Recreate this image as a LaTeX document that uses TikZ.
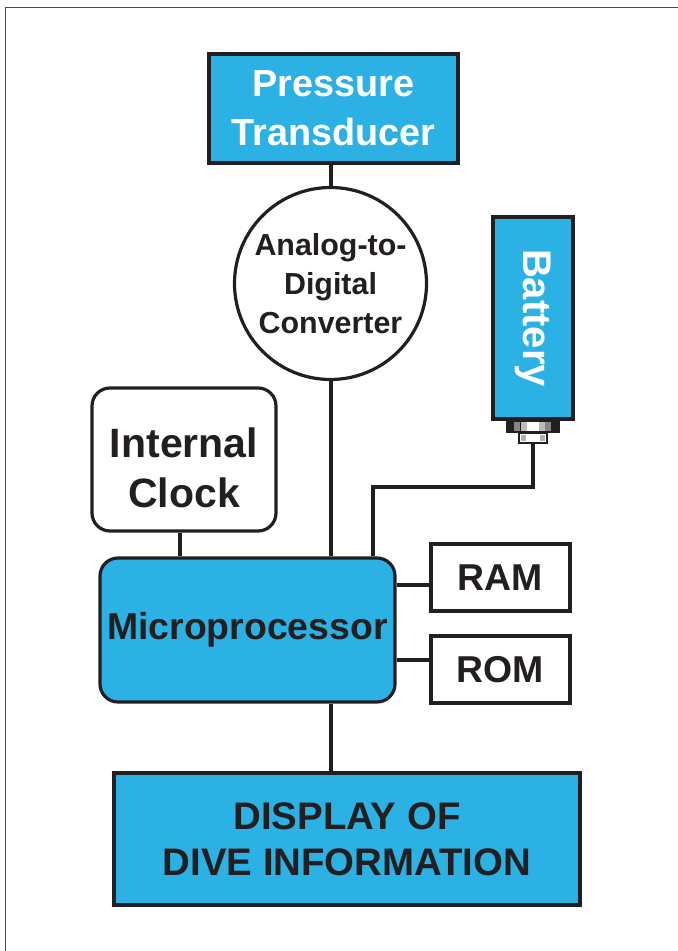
\documentclass[tikz,border=0pt]{standalone}
\usepackage{fontspec}
\setmainfont{Liberation Sans}
\definecolor{divecyan}{HTML}{2CB1E4}
\definecolor{ink}{HTML}{231F20}
\begin{document}
\begin{tikzpicture}[x=.5pt,y=-.5pt,line width=1.6pt,draw=ink,
  cyanbox/.style={draw=ink,fill=divecyan,inner sep=0pt,align=center,font=\bfseries},
  plainbox/.style={draw=ink,fill=white,inner sep=0pt,align=center,font=\bfseries,text=ink},
  wire/.style={draw=ink,line width=2pt}]
  \useasboundingbox (0,0) rectangle (677,951);
  \draw[gray!60!black,line width=.7pt] (5.5,7.5) rectangle (700,980);
  % blocks
  \node[cyanbox,text=white,minimum width=124.5pt,minimum height=54.5pt,
    font=\bfseries\fontsize{18.9}{24.5}\selectfont] (trans) at (333.5,108.5) {Pressure\\Transducer};
  \node[plainbox,circle,minimum size=96pt,
    font=\bfseries\fontsize{15.2}{19.5}\selectfont] (adc) at (330.5,283.5) {Analog-to-\\Digital\\Converter};
  \node[cyanbox,text=white,rotate=-90,minimum width=101pt,minimum height=40pt,
    font=\bfseries\fontsize{20}{24}\selectfont] (batt) at (533,318) {Battery};
  \node[plainbox,rounded corners=9pt,minimum width=92pt,minimum height=71.5pt] (clock) at (184,459.5) {};
  \node[text=ink,align=center,inner sep=0pt,font=\bfseries\fontsize{20.5}{25}\selectfont]
    (clocktext) at ([yshift=-4pt]clock.center) {Internal\\Clock};
  \node[cyanbox,text=ink,rounded corners=9pt,minimum width=147.5pt,minimum height=72pt,
    font=\bfseries\fontsize{18.7}{22}\selectfont] (micro) at (247.5,630) {Microprocessor};
  \node[plainbox,minimum width=69.5pt,minimum height=33.5pt,
    font=\bfseries\fontsize{18.7}{22}\selectfont] (ram) at (500.5,577.5) {RAM};
  \node[plainbox,minimum width=69.5pt,minimum height=33.5pt,
    font=\bfseries\fontsize{18.7}{22}\selectfont] (rom) at (500.5,669.5) {ROM};
  \node[cyanbox,text=ink,minimum width=233pt,minimum height=66pt,
    font=\bfseries\fontsize{19.2}{23}\selectfont] (disp) at (347,839) {DISPLAY OF\\ DIVE INFORMATION};
  % battery terminal
  \fill[ink] (506,420) rectangle (560,433);
  \foreach \x/\g in {514/45,521/70,527/100,533/100,539/70,545/45} {
    \fill[white!\g!ink] (\x,422) rectangle (\x+6,431);
  }
  \draw[line width=1.2pt,fill=white] (519,433) rectangle (547,443);
  \fill[gray!60] (521,435) rectangle (526,441);
  \fill[gray!60] (540,435) rectangle (545,441);
  \coordinate (bt) at (533,443);
  \coordinate (bend) at (373,487);
  % connectors
  \draw[wire] (trans.south -| adc.north) -- (adc.north);
  \draw[wire] (adc.south) -- (adc.south |- micro.north);
  \draw[wire] (clock.south -| 180,0) -- (micro.north -| 180,0);
  \draw[wire] (bt) |- (bend) -- (bend |- micro.north);
  \draw[wire] (micro.east |- ram.west) ++(0,7) coordinate (ramin) -- (ramin -| ram.west);
  \path ([yshift=4.75pt]rom.west) coordinate (romin);
  \draw[wire] (romin -| micro.east) -- (romin);
  \draw[wire] (adc.south |- micro.south) -- (adc.south |- disp.north);
\end{tikzpicture}
\end{document}
